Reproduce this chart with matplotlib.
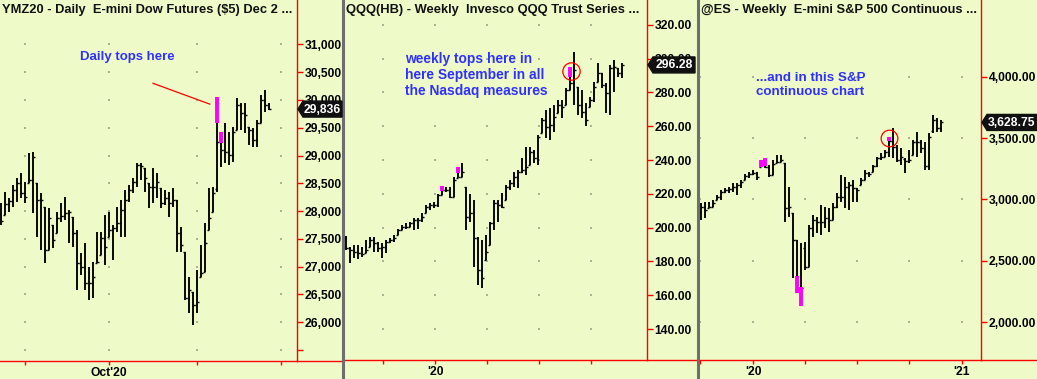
import numpy as np
import matplotlib
matplotlib.use('Agg')
import matplotlib.pyplot as plt
from matplotlib.patches import Polygon
from matplotlib.lines import Line2D
from matplotlib.transforms import IdentityTransform

W, H = 1037, 379
BG = '#EEFBC8'
BLUE = '#3030FF'
MAGENTA = '#FF00FF'

# ---- YMZ20 daily ----
ym_open = [27950, 27930, 28120, 28180, 28380, 28500, 28320, 28500, 28560, 28500,
           28200, 28080, 27300, 27750, 27600, 27870, 27910, 27960, 27900, 27600,
           27060, 27000, 26700, 26700, 27060, 27210, 27510, 27540, 27660, 27690,
           27780, 28020, 28200, 28380, 28530, 28830, 28770, 28500, 28440, 28440,
           28410, 28140, 28230, 28140, 28200, 27600, 27270, 26430, 26550, 26310,
           26820, 26910, 27660, 27990, 28400, 29250, 29100, 29070, 29010, 29460,
           29910, 29760, 29520, 29460, 29280, 29580, 30000, 29910]
ym_high = [28140, 28350, 28230, 28470, 28590, 28680, 28530, 29040, 29070, 28500,
           28320, 28080, 28050, 27750, 27990, 28140, 28260, 28020, 27900, 27660,
           27240, 27420, 27000, 27090, 27630, 27630, 27930, 27990, 27750, 28080,
           28200, 28380, 28470, 28590, 28860, 28860, 28770, 28500, 28770, 28680,
           28410, 28380, 28350, 28410, 28200, 27720, 27270, 26820, 26550, 26940,
           27390, 27780, 28410, 28440, 30060, 29430, 29580, 29430, 29520, 30030,
           29940, 29940, 29520, 29490, 29640, 30090, 30180, 29940]
ym_low = [27750, 27930, 27990, 28080, 28170, 28230, 28140, 28500, 27960, 27540,
          27300, 27060, 27300, 27330, 27600, 27810, 27840, 27420, 27360, 26580,
          26850, 26580, 26400, 26430, 27060, 27210, 27030, 27540, 27120, 27630,
          27540, 27540, 28170, 28320, 28440, 28560, 28350, 28050, 28140, 28230,
          28050, 28110, 27900, 28080, 27270, 27270, 26400, 26160, 25950, 26160,
          26820, 26910, 27660, 27990, 28350, 28800, 28860, 28830, 28890, 29460,
          29460, 29400, 29190, 29160, 29160, 29580, 29790, 29820]
ym_close = [27820, 28120, 28180, 28380, 28500, 28320, 28260, 28560, 28980, 28200,
            28200, 27300, 27870, 27480, 27870, 27910, 27960, 27990, 27600, 27060,
            27000, 26700, 26700, 26820, 27090, 27510, 27360, 27660, 27690, 27780,
            28020, 28200, 28380, 28530, 28830, 28810, 28590, 28440, 28440, 28530,
            28140, 28230, 28140, 28200, 27600, 27390, 26430, 26580, 26310, 26370,
            26880, 27420, 27870, 28320, 29250, 29100, 29070, 29010, 29430, 29910,
            29760, 29730, 29460, 29280, 29580, 30000, 29910, 29836]
ym_mark_bar = [55, 56]
ym_mark_top = [30060, 29430]
ym_mark_bot = [29590, 29220]
ym_yticks = [25500, 26000, 26500, 27000, 27500, 28000, 28500, 29000, 29500, 30000, 30500, 31000]
ym_xticks = [7, 28, 50, 71]
ym_xlabels = ['', "Oct'20", '', '']

# ---- QQQ weekly ----
qqq_open = [194.0, 187.7, 186.7, 185.7, 184.8, 184.8, 188.7, 192.6, 190.7, 187.7,
            188.7, 191.7, 192.6, 195.6, 198.6, 200.5, 200.5, 202.5, 204.5, 204.5,
            208.4, 212.4, 213.3, 213.3, 219.3, 222.0, 222.2, 218.3, 229.1, 230.1,
            224.2, 206.4, 208.4, 193.6, 174.9, 180.8, 189.7, 202.5, 214.4, 213.4,
            216.3, 224.2, 226.2, 230.1, 233.1, 234.1, 237.0, 245.0, 241.0, 255.8,
            263.7, 259.7, 260.7, 267.6, 272.5, 272.5, 281.4, 285.4, 283.4, 272.5,
            268.6, 271.6, 275.5, 286.3, 291.3, 284.4, 279.4, 294.2, 294.2, 291.3]
qqq_high = [195.0, 188.7, 189.7, 189.7, 188.7, 192.6, 194.6, 194.6, 191.7, 190.7,
            192.6, 193.6, 195.6, 199.5, 201.5, 202.5, 203.5, 205.5, 205.5, 208.4,
            213.3, 214.3, 215.3, 220.2, 224.6, 224.2, 224.2, 230.1, 236.0, 238.0,
            224.2, 220.2, 216.3, 194.6, 192.6, 195.6, 203.5, 216.5, 216.3, 220.3,
            225.2, 228.2, 233.1, 234.1, 241.0, 247.9, 247.9, 245.9, 254.8, 264.7,
            269.6, 270.6, 272.5, 275.5, 275.5, 282.4, 295.2, 304.1, 283.4, 281.4,
            273.5, 277.5, 286.3, 297.2, 291.3, 285.4, 296.2, 299.2, 294.2, 297.2]
qqq_low = [186.7, 178.8, 181.8, 181.2, 182.8, 184.8, 188.7, 185.7, 185.7, 181.8,
           184.8, 190.7, 191.7, 195.6, 198.6, 199.5, 200.5, 198.6, 199.0, 203.5,
           208.4, 210.4, 211.4, 212.4, 219.3, 221.2, 217.3, 218.3, 229.1, 230.1,
           198.6, 203.5, 176.9, 166.0, 164.4, 180.8, 189.7, 198.6, 203.5, 211.4,
           216.3, 222.3, 224.2, 223.2, 232.1, 231.1, 237.0, 238.0, 237.0, 255.8,
           252.8, 251.8, 256.8, 267.6, 264.7, 272.5, 281.4, 272.5, 266.6, 264.7,
           260.1, 271.6, 274.5, 286.3, 282.4, 267.6, 266.6, 280.4, 289.3, 288.3]
qqq_close = [187.7, 186.7, 185.7, 184.8, 184.2, 186.7, 192.6, 190.7, 187.7, 188.7,
             191.7, 192.6, 193.6, 198.6, 200.5, 200.5, 202.5, 204.5, 204.5, 206.4,
             212.4, 213.3, 213.3, 219.3, 222.0, 222.2, 218.3, 228.1, 230.1, 233.1,
             206.4, 208.4, 193.6, 174.9, 170.5, 185.7, 202.5, 214.4, 213.4, 212.4,
             224.2, 226.2, 230.1, 233.1, 234.1, 236.1, 245.0, 241.0, 253.8, 263.7,
             259.7, 260.7, 265.6, 272.5, 271.6, 281.4, 285.4, 293.3, 272.5, 268.6,
             263.7, 275.5, 283.4, 291.3, 284.4, 279.4, 294.2, 295.2, 291.3, 296.28]
qqq_mark_bar = [25, 29, 57]
qqq_mark_top = [224.6, 236.0, 295.2]
qqq_mark_bot = [221.8, 232.5, 289.3]
qqq_yticks = [140, 160, 180, 200, 220, 240, 260, 280, 300, 320]
qqq_xticks = [10.25, 23.25, 36.25, 49.25, 62.25]
qqq_xlabels = ['', "'20", '', '', '']

# ---- @ES weekly ----
es_open = [2900, 2941, 2927, 2941, 2995, 3023, 3063, 3077, 3082, 3104,
           3118, 3159, 3191, 3208, 3213, 3267, 3290, 3267, 3200, 3295,
           3308, 3300, 2927, 2887, 2669, 2270, 2600, 2451, 2764, 2832,
           2819, 2819, 2846, 2832, 2941, 3020, 3023, 3100, 3120, 3090,
           3118, 3160, 3213, 3227, 3270, 3335, 3350, 3390, 3480, 3431,
           3320, 3330, 3310, 3363, 3470, 3470, 3420, 3270, 3560, 3650,
           3580]
es_high = [2968, 2982, 2982, 2995, 3036, 3077, 3091, 3099, 3131, 3131,
           3159, 3208, 3227, 3240, 3227, 3316, 3327, 3281, 3322, 3363,
           3363, 3300, 3104, 2887, 2669, 2642, 2650, 2791, 2873, 2859,
           2955, 2941, 2927, 2968, 3050, 3200, 3186, 3145, 3159, 3091,
           3172, 3240, 3227, 3281, 3349, 3376, 3403, 3510, 3580, 3444,
           3417, 3335, 3403, 3485, 3553, 3485, 3471, 3539, 3689, 3662,
           3648]
es_low = [2832, 2846, 2927, 2941, 2995, 2995, 3050, 3050, 3063, 3036,
          3091, 3159, 3172, 3199, 3159, 3267, 3254, 3186, 3200, 3295,
          3308, 2819, 2859, 2356, 2234, 2133, 2424, 2451, 2696, 2723,
          2710, 2764, 2737, 2832, 2927, 2980, 2927, 2914, 2982, 2982,
          3118, 3159, 3186, 3227, 3267, 3322, 3349, 3349, 3335, 3308,
          3281, 3213, 3295, 3363, 3349, 3376, 3240, 3240, 3539, 3553,
          3553]
es_close = [2941, 2914, 2941, 2968, 3023, 3063, 3077, 3082, 3104, 3118,
            3145, 3191, 3208, 3213, 3186, 3290, 3267, 3200, 3290, 3308,
            3322, 2927, 2941, 2669, 2270, 2280, 2451, 2764, 2832, 2819,
            2819, 2846, 2832, 2941, 3020, 3023, 3100, 3120, 3090, 3080,
            3160, 3213, 3210, 3270, 3335, 3350, 3390, 3480, 3431, 3320,
            3350, 3310, 3320, 3470, 3470, 3420, 3270, 3510, 3650, 3580,
            3628.75]
es_mark_bar = [16, 17, 25, 26, 48]
es_mark_top = [3322, 3335, 2375, 2286, 3510]
es_mark_bot = [3262, 3270, 2234, 2133, 3480]
es_yticks = [2000, 2500, 3000, 3500, 4000]
es_xticks = [0.82, 14.15, 27.1, 40.15, 53.15, 66.25]
es_xlabels = ['', "'20", '', '', '', "'21"]

plt.rcParams['font.family'] = ['Liberation Sans', 'DejaVu Sans']

fig = plt.figure(figsize=(W / 100, H / 100), dpi=100, facecolor=BG)


def px_axes(left, right, bottom):
    return fig.add_axes([left / W, (H - bottom) / H, (right - left) / W, bottom / H])


def draw_panel(ax, o, h, l, c, marks, xlim, ylim, yticks, fmt, xticks, xlabels, title, sep):
    x = np.arange(1, len(c) + 1)
    ax.set_facecolor(BG)
    ax.set_xlim(*xlim)
    ax.set_ylim(*ylim)

    # faint dots where the grid lines would cross
    gx, gy = np.meshgrid(xticks, yticks)
    ax.scatter(gx.ravel(), gy.ravel(), s=1.2, marker='s', color='#A9B394', lw=0, zorder=0)

    ax.vlines(x, l, h, color='black', lw=1.35, zorder=2)
    ax.hlines(o, x - 0.55, x, color='black', lw=1.0, zorder=2)
    ax.hlines(c, x, x + 0.55, color='black', lw=1.0, zorder=2)
    mb, mt, mbot = marks
    ax.vlines(mb, mbot, mt, color=MAGENTA, lw=2.8, zorder=3)

    for s in ['top', 'left']:
        ax.spines[s].set_visible(False)
    for s in ['right', 'bottom']:
        ax.spines[s].set_color('red')
        ax.spines[s].set_linewidth(1.0)

    ax.yaxis.tick_right()
    ax.set_yticks(yticks, [fmt(v) for v in yticks])
    ax.tick_params(axis='y', colors='red', labelcolor='black', length=4, width=1, pad=1.5,
                   labelsize=8.7)
    ax.set_xticks(xticks, xlabels)
    ax.tick_params(axis='x', colors='red', labelcolor='black', length=3, width=1, pad=1.5,
                   labelsize=8.7)
    for t in ax.get_xticklabels() + ax.get_yticklabels():
        t.set_fontweight('bold')

    ax.annotate(title, xy=(0, 1), xycoords='axes fraction', xytext=(2, -4),
                textcoords='offset pixels', va='top', ha='left', fontsize=9.3,
                fontweight='bold', color='#111111')

    # bottom red line runs on under the price scale
    bb = ax.get_position()
    fig.add_artist(Line2D([bb.x1, sep / W], [bb.y0, bb.y0], color='red', lw=1.0,
                          transform=fig.transFigure))


def price_tag(ax, value, text, right_px):
    bb = ax.get_position()
    x0 = bb.x1 * W
    yd = ax.transData.transform((1, value))[1]
    hh = 8
    pts = [(x0 + 1, yd), (x0 + 6, yd + hh), (right_px, yd + hh),
           (right_px, yd - hh), (x0 + 6, yd - hh)]
    fig.add_artist(Polygon(pts, closed=True, transform=IdentityTransform(),
                           fc='#101010', ec='#101010', zorder=5))
    fig.text((x0 + 6 + right_px) / 2, yd - 0.5, text, transform=IdentityTransform(),
             ha='center', va='center', color='white', fontsize=8.7,
             fontweight='bold', zorder=6)


# panel 1
ax1 = px_axes(0, 297, 361)
draw_panel(ax1, ym_open, ym_high, ym_low, ym_close, (ym_mark_bar, ym_mark_top, ym_mark_bot),
           (0.75, 75), (25300, 31800), ym_yticks,
           lambda v: '' if v == 25500 else f'{v:,}', ym_xticks, ym_xlabels,
           'YMZ20 - Daily  E-mini Dow Futures ($5) Dec 2 ...', 342)
ax1.text(20.75, 30770, 'Daily tops here', color=BLUE, fontsize=9.5, fontweight='bold',
         va='center', ha='left')
ax1.plot([39, 53.2], [30300, 29925], color='red', lw=0.9)

# panel 2
ax2 = px_axes(344, 647, 360)
draw_panel(ax2, qqq_open, qqq_high, qqq_low, qqq_close, (qqq_mark_bar, qqq_mark_top, qqq_mark_bot),
           (0.5, 76.25), (121.7, 334.7), qqq_yticks,
           lambda v: f'{v:.2f}', qqq_xticks, qqq_xlabels,
           'QQQ(HB) - Weekly  Invesco QQQ Trust Series ...', 697)
ax2.text(15.75, 303.8, 'weekly tops here in\nhere September in all\nthe Nasdaq measures',
         color=BLUE, fontsize=9.9, fontweight='bold', va='top', ha='left', linespacing=1.17)
ax2.plot([57.2], [292.7], marker='o', ms=12.5, mfc='none', mec='red', mew=0.9)

# panel 3
ax3 = px_axes(699, 981, 360)
draw_panel(ax3, es_open, es_high, es_low, es_close, (es_mark_bar, es_mark_top, es_mark_bot),
           (0.575, 71.07), (1690, 4628), es_yticks,
           lambda v: f'{v:,.2f}', es_xticks, es_xlabels,
           '@ES - Weekly  E-mini S&P 500 Continuous ...', 1037)
ax3.text(14.8, 4040, '...and in this S&P\ncontinuous chart', color=BLUE, fontsize=9.6,
         fontweight='bold', va='top', ha='left', linespacing=1.2)
ax3.plot([48], [3504], marker='o', ms=12, mfc='none', mec='red', mew=0.9)

price_tag(ax1, ym_close[-1], f'{ym_close[-1]:,}', 342)
price_tag(ax2, qqq_close[-1], f'{qqq_close[-1]:.2f}', 695)
price_tag(ax3, es_close[-1], f'{es_close[-1]:,.2f}', 1037)

# panel separators
for sx in [342.5, 697.5]:
    fig.add_artist(Line2D([sx / W, sx / W], [0, 1], color='#6E6E6E', lw=2.2,
                          transform=fig.transFigure))

fig.savefig('out.png', dpi=100, facecolor=BG)
